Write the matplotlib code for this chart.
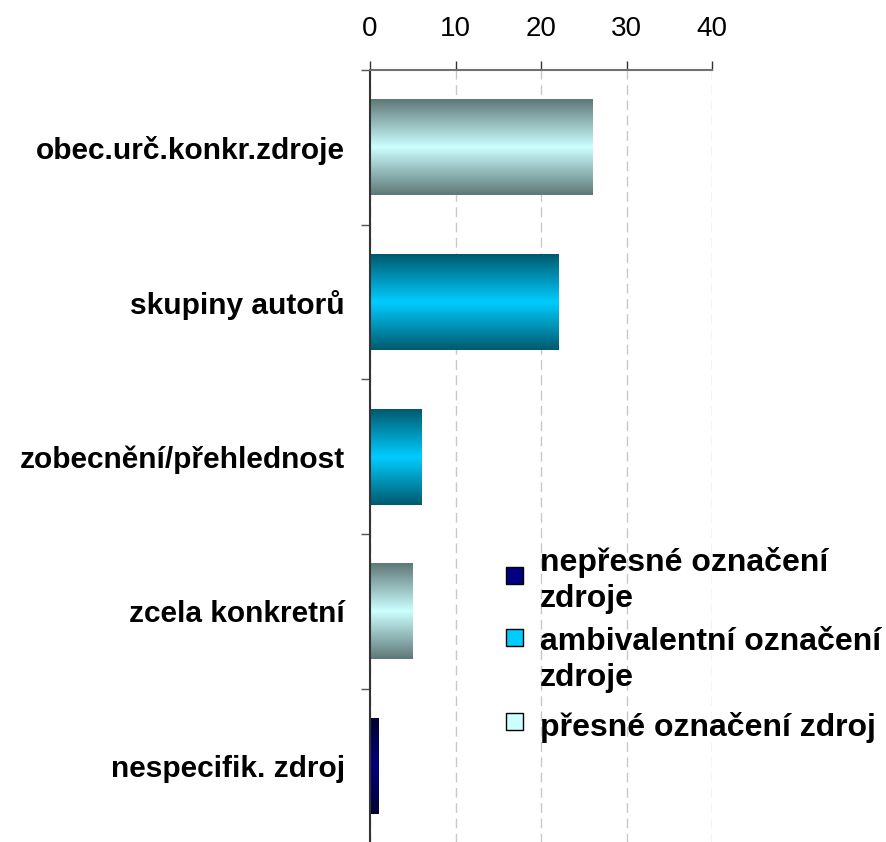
#!/usr/bin/env python3

import numpy as np
import matplotlib
matplotlib.use("Agg")
import matplotlib.pyplot as plt
from matplotlib.colors import to_rgb
from matplotlib.patches import Rectangle

categories = ["obec.urč.konkr.zdroje", "skupiny autorů", "zobecnění/přehlednost",
              "zcela konkretní", "nespecifik. zdroj"]
counts = [26, 22, 6, 5, 1]
# index into the series lists below, one per bar
bar_series = [2, 1, 1, 2, 0]

series_labels = ["nepřesné označení\nzdroje", "ambivalentní označení\nzdroje",
                 "přesné označení zdroj"]
series_colors = ["#000080", "#00CCFF", "#CCFFFF"]
series_edges = ["#000030", "#005A6E", "#5E7877"]
x_ticks = [0, 10, 20, 30, 40]

W, H = 886, 842
plt.rcParams["font.family"] = ["Liberation Sans", "DejaVu Sans"]


def px(x):
    return x / W


def py(y):
    return 1 - y / H


def gradient(edge, center, n=120):
    e = np.array(to_rgb(edge))
    c = np.array(to_rgb(center))
    u = np.linspace(0, 1, n)
    t = 1 - np.abs(2 * u - 1)
    return (e[None, :] + (c - e)[None, :] * t[:, None])[:, None, :]


fig = plt.figure(figsize=(W / 100, H / 100), dpi=100)
ax = fig.add_axes([px(370), py(843.5), px(712) - px(370), py(70) - py(843.5)])

ypos = np.arange(len(categories))[::-1]
bars = ax.barh(ypos, counts, height=0.62, color="none", edgecolor="none")
for bar, s in zip(bars, bar_series):
    x0, y0 = bar.get_x(), bar.get_y()
    img = ax.imshow(gradient(series_edges[s], series_colors[s]), aspect="auto",
                    extent=(x0, x0 + bar.get_width(), y0, y0 + bar.get_height()),
                    interpolation="bilinear", zorder=2)
    img.set_clip_path(bar)

ax.set_xlim(0, 40)
ax.set_ylim(-0.5, len(categories) - 0.5)

ax.xaxis.tick_top()
ax.set_xticks(x_ticks)
ax.tick_params(axis="x", direction="out", length=6.5, width=1, color="#333333",
               labelsize=20, pad=14)
ax.xaxis.grid(True, color="#c8c8c8", linestyle=(0, (7, 4)), linewidth=1)
ax.set_axisbelow(True)

ax.set_yticks(ypos)
ax.set_yticklabels(categories, fontsize=21.5, fontweight="bold")
ax.set_yticks(np.arange(len(categories) + 1) - 0.5, minor=True)
ax.tick_params(axis="y", which="major", length=0, pad=18)
ax.tick_params(axis="y", which="minor", length=6.5, width=1, color="#555555")

for side in ["right", "bottom"]:
    ax.spines[side].set_visible(False)
ax.spines["top"].set_color("#707070")
ax.spines["top"].set_linewidth(1.5)
ax.spines["left"].set_color("#333333")
ax.spines["left"].set_linewidth(1.5)

# legend: square swatch beside each entry, text placed by its last baseline
swatch_top = [567, 629, 713]
text_base = [607, 686, 736]
for label, color, top, base in zip(series_labels, series_colors, swatch_top, text_base):
    fig.add_artist(Rectangle((px(506), py(top + 17)), px(17), 17 / H, facecolor=color,
                             edgecolor="black", linewidth=1, transform=fig.transFigure))
    fig.text(px(540), py(base), label, fontsize=23, fontweight="bold",
             va="baseline", ha="left", linespacing=1.27)

plt.savefig("out.png", dpi=100)
